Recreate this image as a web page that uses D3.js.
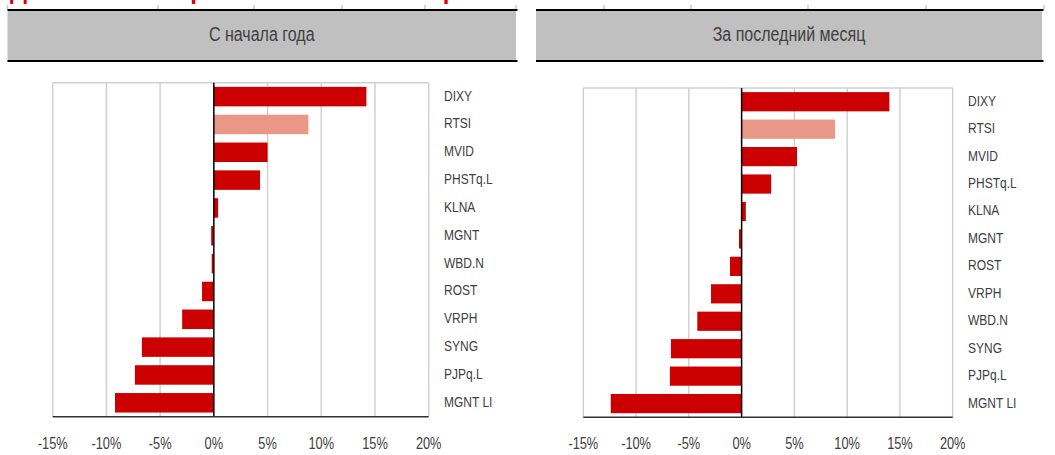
<!DOCTYPE html>
<html>
<head>
<meta charset="utf-8">
<script src="https://cdn.jsdelivr.net/npm/d3@7"></script>
<style>
  body { margin: 0; background: #fff; }
  svg { display: block; font-family: "Liberation Sans", Arial, sans-serif; }
</style>
</head>
<body>
<div class="chart"></div>
<script>
// data
var ytdCategories = ["DIXY", "RTSI", "MVID", "PHSTq.L", "KLNA", "MGNT", "WBD.N", "ROST", "VRPH", "SYNG", "PJPq.L", "MGNT LI"];
var ytdValues = [14.2, 8.8, 5.0, 4.3, 0.4, -0.25, -0.2, -1.1, -2.95, -6.7, -7.35, -9.2];

var monthCategories = ["DIXY", "RTSI", "MVID", "PHSTq.L", "KLNA", "MGNT", "ROST", "VRPH", "WBD.N", "SYNG", "PJPq.L", "MGNT LI"];
var monthValues = [14.0, 8.85, 5.25, 2.8, 0.4, -0.25, -1.1, -2.9, -4.2, -6.7, -6.8, -12.4];

var tickValues = [-15, -10, -5, 0, 5, 10, 15, 20];
var highlight = "RTSI";

// heading above the panels, mostly cut off by the top edge
var headingWords = ["Динамика", "котировок", "сектора"];
var headingX = [10, 138, 378];

var svgWidth = 1055;
var svgHeight = 455;

var svg = d3.select(".chart")
  .append("svg")
  .attr("width", svgWidth)
  .attr("height", svgHeight);

// narrow-looking text: squeeze horizontally
function narrowText(parent, x, y, str, size, anchor, fill) {
  var g = parent.append("g")
    .attr("transform", `translate(${x},${y}) scale(0.8,1)`);
  g.append("text")
    .attr("text-anchor", anchor)
    .attr("font-size", size)
    .attr("fill", fill || "#404040")
    .text(str);
  return g;
}

// only the descenders of the red heading show at the very top
svg.append("clipPath").attr("id", "topclip")
  .append("rect").attr("x", 0).attr("y", 0).attr("width", svgWidth).attr("height", 5);
svg.append("g").attr("clip-path", "url(#topclip)")
  .append("text")
  .attr("y", -1.5)
  .attr("font-size", 24)
  .attr("font-weight", "bold")
  .attr("fill", "#e00000")
  .selectAll("tspan")
  .data(headingWords)
  .enter()
  .append("tspan")
  .attr("x", (d, i) => headingX[i])
  .text(d => d);

// little gray remnants of the table above
var remnants = [7.5, 158, 254, 342, 425, 516, 604, 691, 808, 926, 1044];
svg.selectAll(".remnant")
  .data(remnants)
  .enter()
  .append("line")
  .attr("x1", d => d).attr("x2", d => d)
  .attr("y1", 5).attr("y2", 10)
  .attr("stroke", "#c8c8c8")
  .attr("stroke-width", 1.5);

function drawPanel(opts) {
  var g = svg.append("g");

  // header
  g.append("rect")
    .attr("x", opts.hx0).attr("y", 10)
    .attr("width", opts.hx1 - opts.hx0).attr("height", 51)
    .attr("fill", "#c0c0c0");
  [10, 61].forEach(function (yy) {
    g.append("line")
      .attr("x1", opts.hx0).attr("x2", opts.hx1 + 1.5)
      .attr("y1", yy).attr("y2", yy)
      .attr("stroke", "#000").attr("stroke-width", 2);
  });
  narrowText(g, (opts.hx0 + opts.hx1) / 2, 41, opts.title, 20, "middle");

  var x = d3.scaleLinear()
    .domain([-15, 20])
    .range([opts.left, opts.right]);

  var y = d3.scaleBand()
    .domain(opts.categories)
    .range([opts.top, opts.bottom])
    .paddingInner(0.3)
    .paddingOuter(0.15);

  // gridlines
  g.selectAll(".grid")
    .data(tickValues.filter(d => d !== 0))
    .enter()
    .append("line")
    .attr("x1", d => x(d)).attr("x2", d => x(d))
    .attr("y1", opts.top).attr("y2", opts.bottom)
    .attr("stroke", "#d0d0d0")
    .attr("stroke-width", 1.5);

  g.append("line")
    .attr("x1", opts.left).attr("x2", opts.right)
    .attr("y1", opts.top).attr("y2", opts.top)
    .attr("stroke", "#d0d0d0").attr("stroke-width", 1.5);

  // bars
  var data = opts.categories.map((c, i) => ({ name: c, value: opts.values[i] }));
  g.selectAll(".bar")
    .data(data)
    .enter()
    .append("rect")
    .attr("x", d => x(Math.min(0, d.value)))
    .attr("width", d => Math.abs(x(d.value) - x(0)))
    .attr("y", d => y(d.name))
    .attr("height", y.bandwidth())
    .attr("fill", d => d.name === highlight ? "#e99787" : "#cc0000");

  // zero line and bottom axis line
  g.append("line")
    .attr("x1", x(0)).attr("x2", x(0))
    .attr("y1", opts.top).attr("y2", opts.bottom)
    .attr("stroke", "#000").attr("stroke-width", 1.5);
  g.append("line")
    .attr("x1", opts.left).attr("x2", opts.right)
    .attr("y1", opts.bottom).attr("y2", opts.bottom)
    .attr("stroke", "#303030").attr("stroke-width", 1.5);

  // tick labels
  tickValues.forEach(function (t) {
    narrowText(g, x(t), 449, t + "%", 16, "middle");
  });

  // category labels on the right
  opts.categories.forEach(function (c) {
    narrowText(g, opts.labelX, y(c) + y.bandwidth() / 2 + 4, c, 15, "start");
  });
}

drawPanel({
  title: "С начала года",
  hx0: 7.5, hx1: 516,
  left: 52.7, right: 428.7, top: 82.7, bottom: 416.7,
  labelX: 444,
  categories: ytdCategories,
  values: ytdValues
});

drawPanel({
  title: "За последний месяц",
  hx0: 536, hx1: 1042,
  left: 583.3, right: 952.7, top: 88, bottom: 417.3,
  labelX: 968,
  categories: monthCategories,
  values: monthValues
});
</script>
</body>
</html>
